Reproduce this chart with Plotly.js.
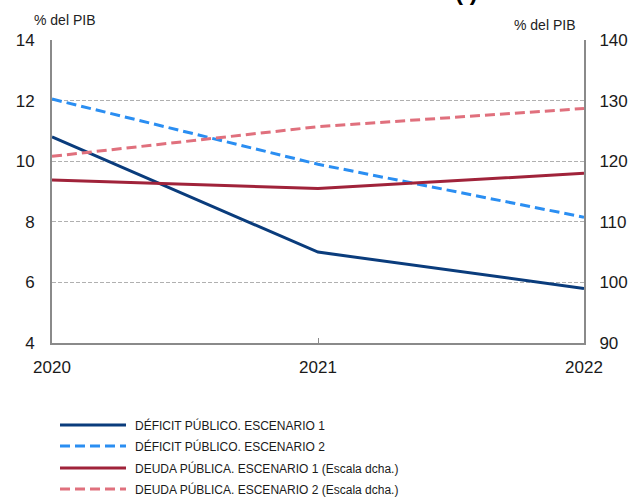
<!DOCTYPE html>
<html>
<head>
<meta charset="utf-8">
<script src="https://cdn.plot.ly/plotly-3.0.1.min.js"></script>
<style>html,body{margin:0;padding:0;background:#fff;}#chart{width:632px;height:499px;}</style>
</head>
<body>
<div id="chart"></div>
<script>
const years = [2020, 2021, 2022];
const deficitEsc1 = [10.8, 7.0, 5.8];
const deficitEsc2 = [12.05, 9.9, 8.15];
const deudaEsc1 = [116.9, 115.5, 118.0];
const deudaEsc2 = [120.8, 125.7, 128.7];
const seriesNames = [
  'DÉFICIT PÚBLICO. ESCENARIO 1',
  'DÉFICIT PÚBLICO. ESCENARIO 2',
  'DEUDA PÚBLICA. ESCENARIO 1 (Escala dcha.)',
  'DEUDA PÚBLICA. ESCENARIO 2 (Escala dcha.)'
];
const leftTicks = [4, 6, 8, 10, 12, 14];
const rightTicks = [90, 100, 110, 120, 130, 140];
const unitLabel = '% del PIB';
const titleFragment = '(I)';

const colors = ['#0a3c7c', '#2a8ef2', '#a0233a', '#e0707d'];
const dashes = ['solid', '10px,5px', 'solid', '10px,5px'];

const W = 632, H = 499, ML = 52, MR = 48, MT = 40, MB = 156;
const PW = W - ML - MR, PH = H - MT - MB;
const px2x = p => (p - ML) / PW;
const py2y = p => (H - MB - p) / PH;

const data = [
  {x: years, y: deficitEsc1, name: seriesNames[0], yaxis: 'y', line: {color: colors[0], width: 3, dash: dashes[0]}},
  {x: years, y: deficitEsc2, name: seriesNames[1], yaxis: 'y', line: {color: colors[1], width: 3, dash: dashes[1]}},
  {x: years, y: deudaEsc1, name: seriesNames[2], yaxis: 'y2', line: {color: colors[2], width: 3, dash: dashes[2]}},
  {x: years, y: deudaEsc2, name: seriesNames[3], yaxis: 'y2', line: {color: colors[3], width: 3, dash: dashes[3]}}
].map(t => Object.assign({type: 'scatter', mode: 'lines', showlegend: false, hoverinfo: 'skip'}, t));

const legendRows = [425, 446, 468, 489];
const shapes = [];
const annotations = [];
seriesNames.forEach((n, i) => {
  shapes.push({type: 'line', xref: 'paper', yref: 'paper', x0: px2x(60), x1: px2x(126), y0: py2y(legendRows[i]), y1: py2y(legendRows[i]),
    line: {color: colors[i], width: 3, dash: dashes[i]}});
  annotations.push({xref: 'paper', yref: 'paper', x: px2x(133), y: py2y(legendRows[i]), xanchor: 'left', yanchor: 'middle',
    text: n, showarrow: false, font: {family: 'Liberation Sans Narrow, Arial Narrow, Liberation Sans, Arial, sans-serif', size: 12, color: '#1a1a1a'}});
});
annotations.push({xref: 'paper', yref: 'paper', x: px2x(32), y: py2y(20), xanchor: 'left', yanchor: 'middle', text: unitLabel, showarrow: false,
  font: {family: 'Liberation Sans, Arial, sans-serif', size: 14, color: '#222'}});
annotations.push({xref: 'paper', yref: 'paper', x: px2x(577), y: py2y(25), xanchor: 'right', yanchor: 'middle', text: unitLabel, showarrow: false,
  font: {family: 'Liberation Sans, Arial, sans-serif', size: 14, color: '#222'}});
annotations.push({xref: 'paper', yref: 'paper', x: px2x(466), y: py2y(7), xanchor: 'center', yanchor: 'bottom', text: titleFragment, showarrow: false,
  font: {family: 'Liberation Sans, Arial, sans-serif', size: 24, color: '#000', weight: 'bold'}});

const tickFont = {family: 'Liberation Sans, Arial, sans-serif', size: 17, color: '#1a1a1a'};
const layout = {
  width: W, height: H,
  margin: {l: ML, r: MR, t: MT, b: MB, pad: 0},
  paper_bgcolor: '#fff', plot_bgcolor: '#fff',
  showlegend: false,
  xaxis: {range: [2020, 2022], tickvals: years, ticktext: years.map(String), showgrid: false, zeroline: false,
    showline: true, linecolor: '#8a8a8a', linewidth: 2, ticks: 'inside', ticklen: 5, tickcolor: '#8a8a8a', tickwidth: 1,
    tickfont: tickFont, ticklabelstandoff: 8},
  yaxis: {range: [4, 14], tickvals: leftTicks, showgrid: true, gridcolor: '#b0b0b0', griddash: '4px,2px', gridwidth: 1,
    zeroline: false, showline: true, linecolor: '#8a8a8a', linewidth: 2, ticks: '', tickfont: tickFont, ticklabelstandoff: 12},
  yaxis2: {range: [90, 140], tickvals: rightTicks, overlaying: 'y', side: 'right', showgrid: false, zeroline: false,
    showline: true, linecolor: '#8a8a8a', linewidth: 2, ticks: '', tickfont: tickFont, ticklabelstandoff: 10},
  shapes: shapes,
  annotations: annotations
};
Plotly.newPlot('chart', data, layout, {staticPlot: true, displayModeBar: false});
</script>
</body>
</html>
